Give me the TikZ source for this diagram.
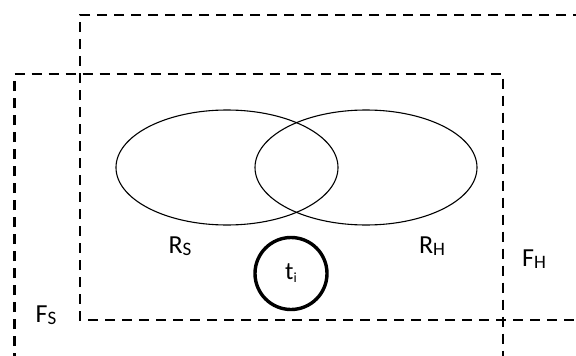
\documentclass[tikz,border=0pt]{standalone}
\usepackage{fontspec}
\setmainfont{Carlito}
\usetikzlibrary{shapes.geometric}
\tikzset{
  frame/.style={draw, line width=2.1pt, dash pattern=on 10pt off 7pt},
  setell/.style={draw, ellipse, line width=1.1pt, minimum width=222pt, minimum height=115pt, inner sep=0pt},
  tup/.style={draw, circle, line width=3.4pt, minimum size=72pt, inner sep=0pt, font=\fontsize{25}{25}\selectfont},
  lbl/.style={inner sep=0pt, font=\fontsize{26}{26}\selectfont}
}
\newcommand{\sub}[1]{\raisebox{-2.5pt}{\fontsize{19}{19}\selectfont #1}}
\begin{document}
\begin{tikzpicture}[x=1pt,y=-1pt]
\useasboundingbox (0,0) rectangle (576,356);
% frame F_H (upper right)
\draw[frame] (600,15) -- (80,15) -- (80,320) -- (600,320);
% frame F_S (lower left)
\draw[frame] (14.5,380) -- (14.5,74) -- (503,74) -- (503,380);
% sets
\node[setell] (rs) at (227,167.5) {};
\node[setell] (rh) at (366,167.5) {};
% tuple
\node[tup] (ti) at (291,273.5) {t\raisebox{-3pt}{\fontsize{14}{14}\selectfont i}};
% labels
\node[lbl] (lrs) at (180,246) {R\sub{S}};
\node[lbl] (lrh) at (432,246) {R\sub{H}};
\node[lbl] (lfh) at (534,259) {F\sub{H}};
\node[lbl] (lfs) at (46,315) {F\sub{S}};
\end{tikzpicture}
\end{document}
